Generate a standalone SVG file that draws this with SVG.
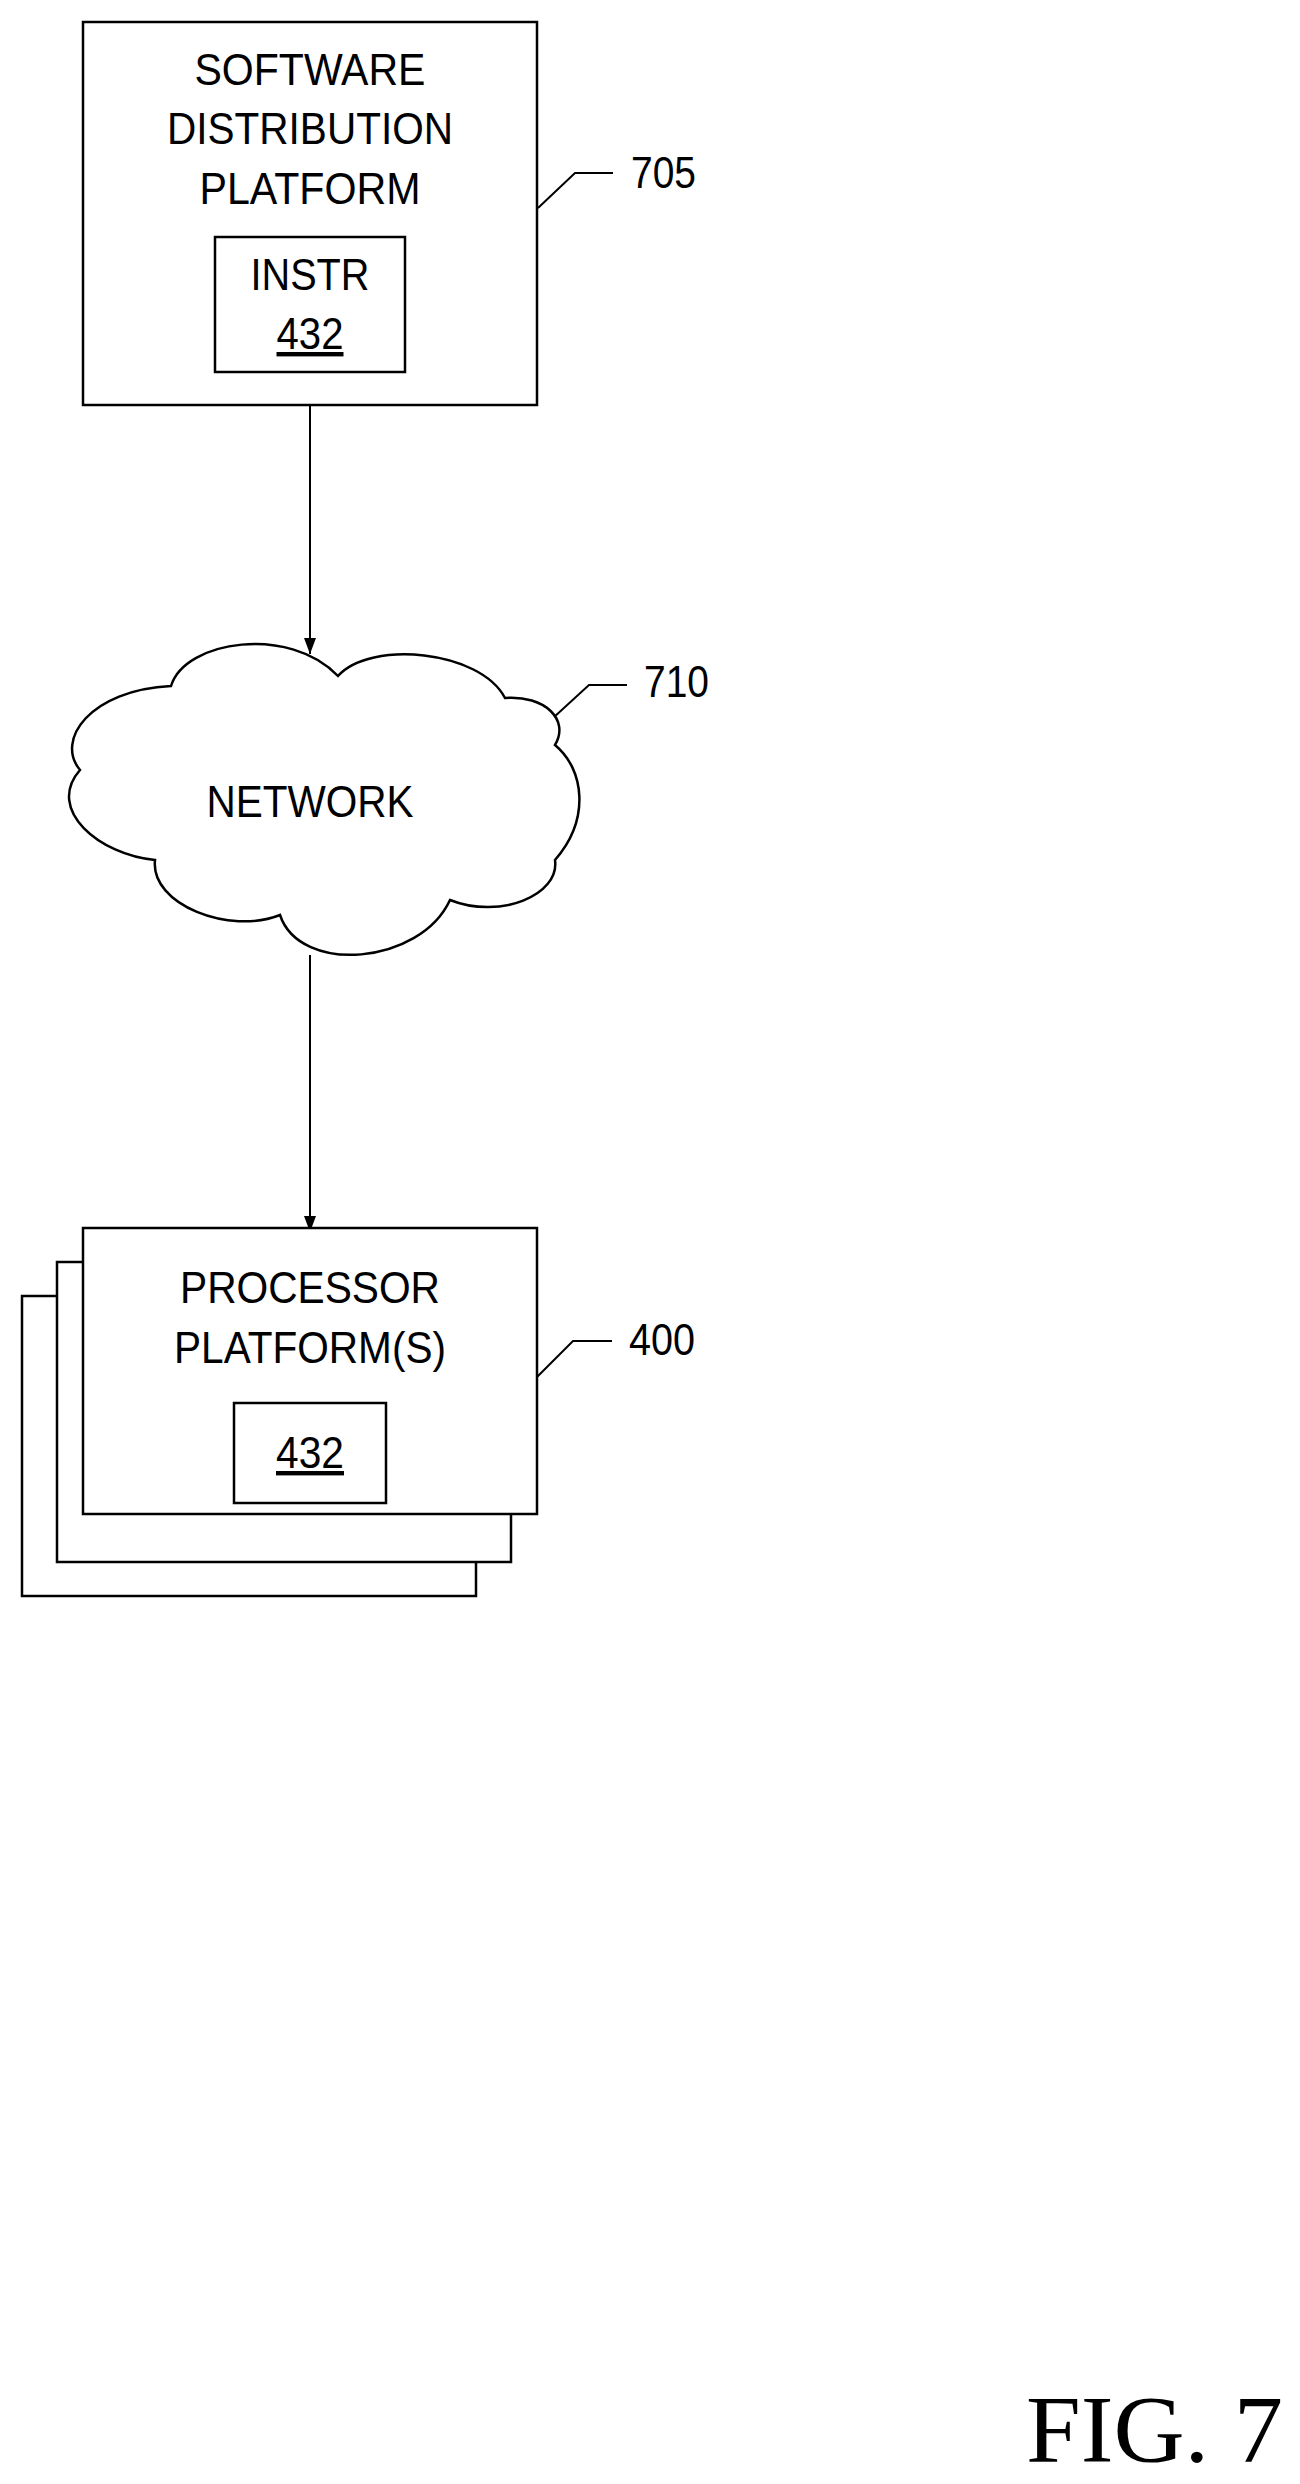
<svg xmlns="http://www.w3.org/2000/svg" width="1300" height="2484" viewBox="0 0 1300 2484">
<style>
.b{fill:#fff;stroke:#000;stroke-width:2.5}
.l{fill:none;stroke:#000;stroke-width:2}
.t{font-family:"Liberation Sans",Arial,sans-serif;font-size:44px;text-anchor:middle;fill:#000}
.r{font-family:"Liberation Sans",Arial,sans-serif;font-size:44px;fill:#000}
</style>
<defs><marker id="a" markerWidth="12" markerHeight="16" refX="6" refY="16" orient="auto" markerUnits="userSpaceOnUse"><path d="M0,0 L12,0 L6,16 Z" fill="#000" transform="rotate(-90 6 8) translate(-2 2)"/></marker>
<marker id="ah" viewBox="0 0 16 12" markerWidth="16" markerHeight="12" refX="16" refY="6" orient="auto" markerUnits="userSpaceOnUse"><path d="M0,0 L16,6 L0,12 Z" fill="#000"/></marker></defs>
<g id="connectors">
<line class="l" x1="310" y1="405" x2="310" y2="654" marker-end="url(#ah)"/>
<line class="l" x1="310" y1="955" x2="310" y2="1232" marker-end="url(#ah)"/>
<polyline class="l" points="538,208 575,173 613,173"/>
<polyline class="l" points="553,718 589,685 627,685"/>
<polyline class="l" points="537,1377 573,1341 612,1341"/>
</g>
<g id="n705">
<rect class="b" x="83" y="22" width="454" height="383"/>
<text class="t" x="310" y="85" textLength="231" lengthAdjust="spacingAndGlyphs">SOFTWARE</text>
<text class="t" x="310" y="144" textLength="286" lengthAdjust="spacingAndGlyphs">DISTRIBUTION</text>
<text class="t" x="310" y="204" textLength="221" lengthAdjust="spacingAndGlyphs">PLATFORM</text>
<rect class="b" x="215" y="237" width="190" height="135"/>
<text class="t" x="310" y="290" textLength="119" lengthAdjust="spacingAndGlyphs">INSTR</text>
<text class="t" x="310" y="349" textLength="67" lengthAdjust="spacingAndGlyphs" text-decoration="underline">432</text>
<text class="r" x="631" y="188" textLength="65" lengthAdjust="spacingAndGlyphs">705</text>
</g>
<g id="n710">
<path class="b" d="M171,686 C185,640 290,625 338,676 C370,640 480,650 505,698 C545,695 570,720 555,745 C585,770 590,820 555,860 C560,895 500,920 450,900 C420,965 300,975 280,915 C230,935 150,905 155,860 C100,855 45,810 80,770 C55,740 90,690 171,686 Z"/>
<text class="t" x="310" y="817" textLength="207" lengthAdjust="spacingAndGlyphs">NETWORK</text>
<text class="r" x="644" y="697" textLength="65" lengthAdjust="spacingAndGlyphs">710</text>
</g>
<g id="n400">
<rect class="b" x="22" y="1296" width="454" height="300"/>
<rect class="b" x="57" y="1262" width="454" height="300"/>
<rect class="b" x="83" y="1228" width="454" height="286"/>
<text class="t" x="310" y="1303" textLength="260" lengthAdjust="spacingAndGlyphs">PROCESSOR</text>
<text class="t" x="310" y="1363" textLength="272" lengthAdjust="spacingAndGlyphs">PLATFORM(S)</text>
<rect class="b" x="234" y="1403" width="152" height="100"/>
<text class="t" x="310" y="1468" textLength="68" lengthAdjust="spacingAndGlyphs" text-decoration="underline">432</text>
<text class="r" x="629" y="1355" textLength="66" lengthAdjust="spacingAndGlyphs">400</text>
</g>
<text x="1026" y="2462" font-family="'Liberation Serif','Times New Roman',serif" font-size="96" textLength="257" lengthAdjust="spacingAndGlyphs">FIG. 7</text>
</svg>
